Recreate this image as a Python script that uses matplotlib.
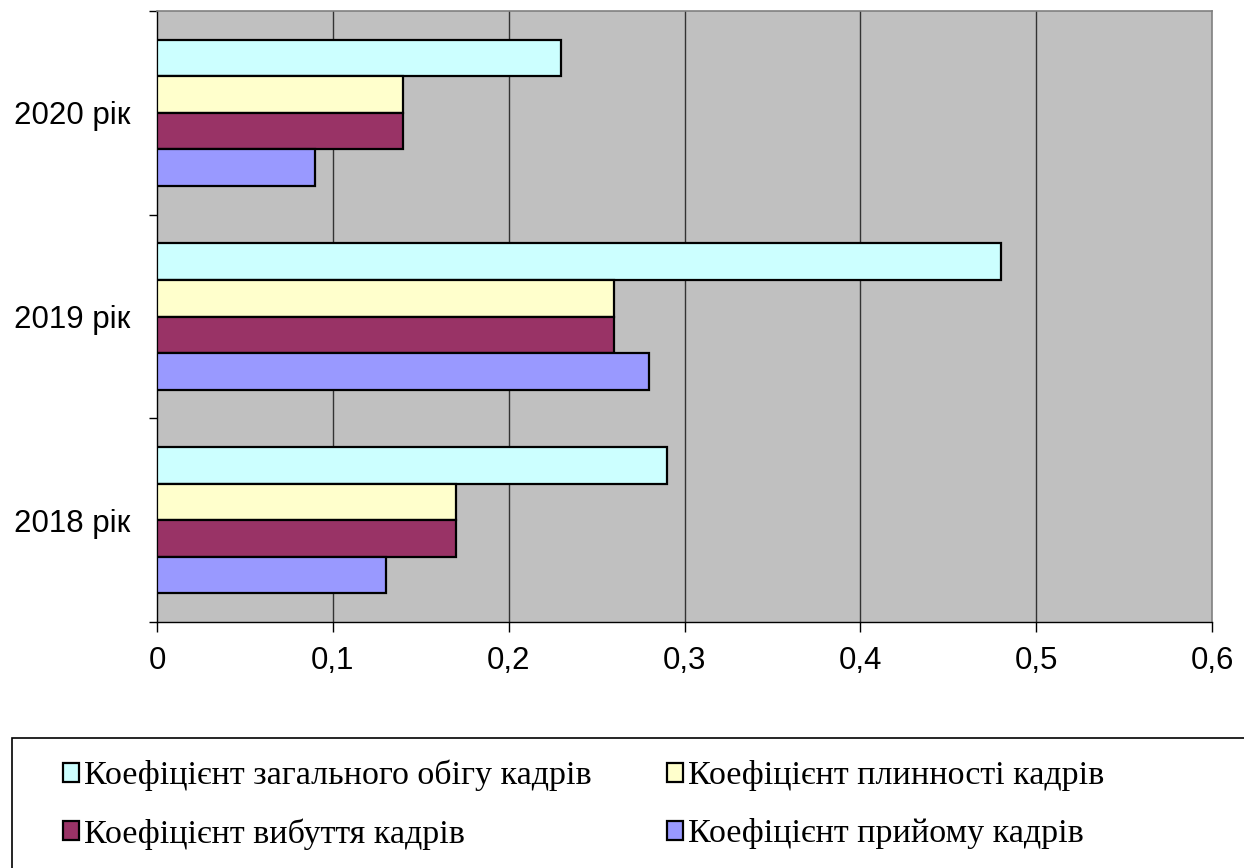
import numpy as np
import matplotlib
matplotlib.use("Agg")
import matplotlib.pyplot as plt
from matplotlib.patches import Rectangle

# ── Data ──────────────────────────────────────────────────────────────────────
YEARS = ["2018 рік", "2019 рік", "2020 рік"]
SERIES = [
    "Коефіцієнт загального обігу кадрів",
    "Коефіцієнт плинності кадрів",
    "Коефіцієнт вибуття кадрів",
    "Коефіцієнт прийому кадрів",
]
TURNOVER = [0.29, 0.48, 0.23]
FLUIDITY = [0.17, 0.26, 0.14]
DISMISSAL = [0.17, 0.26, 0.14]
HIRING = [0.13, 0.28, 0.09]
X_TICKS = [0, 0.1, 0.2, 0.3, 0.4, 0.5, 0.6]
X_LABELS = ["0", "0,1", "0,2", "0,3", "0,4", "0,5", "0,6"]

COLORS = ["#CCFFFF", "#FFFFCC", "#993366", "#9999FF"]
# ─────────────────────────────────────────────────────────────────────────────

fig = plt.figure(figsize=(12.44, 8.68), dpi=100)
ax = fig.add_axes([157 / 1244, 1 - 622 / 868, (1212 - 157) / 1244, (622 - 11) / 868])
ax.set_facecolor("#C0C0C0")

y = np.arange(len(YEARS))
h = 0.18
values = [TURNOVER, FLUIDITY, DISMISSAL, HIRING]
offsets = [1.5 * h, 0.5 * h, -0.5 * h, -1.5 * h]
for vals, off, col, lab in zip(values, offsets, COLORS, SERIES):
    ax.barh(y + off, vals, height=h, color=col, edgecolor="black",
            linewidth=1.6, label=lab, zorder=3)

ax.set_xlim(0, 0.6)
ax.set_ylim(-0.5, 2.5)
ax.set_xticks(X_TICKS)
ax.set_xticklabels(X_LABELS, fontsize=22.5, fontfamily="Liberation Sans")
ax.set_yticks(y)
ax.set_yticklabels(YEARS, fontsize=22.5, fontfamily="Liberation Sans")
ax.set_yticks([-0.5, 0.5, 1.5, 2.5], minor=True)
ax.tick_params(axis="y", which="major", length=0, pad=19)
ax.tick_params(axis="y", which="minor", length=6, width=1, direction="out")
ax.tick_params(axis="x", length=7, width=1, direction="out", pad=10)

for xv in X_TICKS[1:-1]:
    ax.axvline(xv, color="#333333", linewidth=1.0, zorder=1)

for s in ["top", "right"]:
    ax.spines[s].set_color("#808080")
    ax.spines[s].set_linewidth(1.2)
for s in ["left", "bottom"]:
    ax.spines[s].set_color("black")
    ax.spines[s].set_linewidth(1.0)

# legend box (runs off the right and bottom edge, as in the original)
fig.patches.append(Rectangle((12 / 1244, -0.01), 1.0, (868 - 738) / 868 + 0.01,
                             transform=fig.transFigure, facecolor="white",
                             edgecolor="black", linewidth=1.2))
handles, labels = ax.get_legend_handles_labels()
order = [0, 2, 1, 3]  # row-major: cyan, yellow / maroon, blue
fig.legend([handles[i] for i in order], [labels[i] for i in order],
           ncol=2, loc="upper left",
           bbox_to_anchor=(32 / 1244, 1 - 729 / 868),
           frameon=False, prop={"family": "Liberation Serif", "size": 24.5},
           handlelength=0.48, handleheight=0.48, handletextpad=0.15,
           columnspacing=2.2, labelspacing=0.8)

fig.savefig("out.png", dpi=100)
